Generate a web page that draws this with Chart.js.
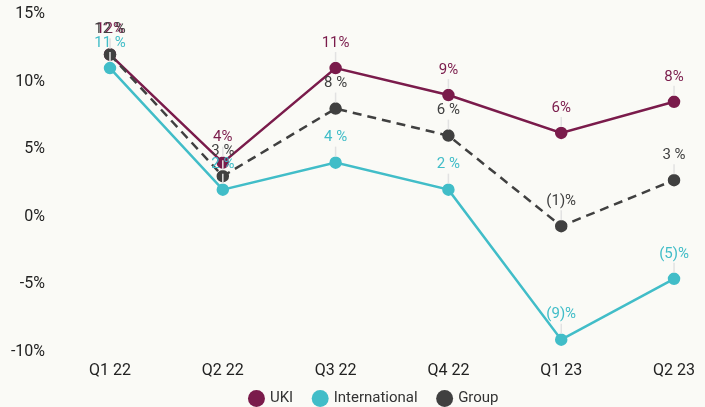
<!DOCTYPE html>
<html>
<head>
<meta charset="utf-8">
<script src="https://cdn.jsdelivr.net/npm/chart.js@4.4.0/dist/chart.umd.min.js"></script>
<style>
  html, body { margin: 0; padding: 0; background: #fafaf6; }
  #wrap { width: 705px; height: 407px; }
</style>
</head>
<body>
<div id="wrap"><canvas id="growthChart"></canvas></div>
<script>
let quarters = ["Q1 22", "Q2 22", "Q3 22", "Q4 22", "Q1 23", "Q2 23"];
let ukiData = [12, 4, 11, 9, 6.2, 8.5];
let intlData = [11, 2, 4, 2, -9.1, -4.6];
let groupData = [12, 3, 8, 6, -0.7, 2.7];
let ukiLabels = ["12%", "4%", "11%", "9%", "6%", "8%"];
let intlLabels = ["11 %", "2 %", "4 %", "2 %", "(9)%", "(5)%"];
let groupLabels = ["12 %", "3 %", "8 %", "6 %", "(1)%", "3 %"];

const FONT = "Roboto, 'Liberation Sans', sans-serif";

// draws the value text above each point with a thin leader line
const pointLabels = {
    id: "pointLabels",
    afterDatasetsDraw(chart) {
        const ctx = chart.ctx;
        chart.data.datasets.forEach((ds, i) => {
            const meta = chart.getDatasetMeta(i);
            if (meta.hidden) return;
            meta.data.forEach((pt, j) => {
                ctx.save();
                ctx.strokeStyle = "#e2e2e2";
                ctx.lineWidth = 1.5;
                ctx.beginPath();
                ctx.moveTo(pt.x, pt.y - 16);
                ctx.lineTo(pt.x, pt.y - 6);
                ctx.stroke();
                ctx.fillStyle = ds.borderColor;
                ctx.font = "15px " + FONT;
                ctx.textAlign = "center";
                ctx.textBaseline = "middle";
                ctx.fillText(ds.valueLabels[j], pt.x, pt.y - 25);
                ctx.restore();
            });
        });
    }
};

// keep the legend thin but with wide gaps between items
const legendFit = {
    id: "legendFit",
    afterInit(chart) {
        const lg = chart.legend;
        const fit = lg.fit;
        lg.fit = function () {
            fit.call(this);
            this.height = 16;
        };
    },
    afterLayout(chart) {
        chart.legend.top -= 21;
        chart.legend.left += 33;
        chart.legend.right += 33;
    }
};

let ctx = document.getElementById("growthChart").getContext("2d");
new Chart(ctx, {
    type: "line",
    data: {
        labels: quarters,
        datasets: [
            {
                label: "UKI",
                data: ukiData,
                valueLabels: ukiLabels,
                borderColor: "#7a1b4b",
                backgroundColor: "#7a1b4b",
                borderWidth: 2.5,
                pointRadius: 5,
                order: 2
            },
            {
                label: "International",
                data: intlData,
                valueLabels: intlLabels,
                borderColor: "#41bdc8",
                backgroundColor: "#41bdc8",
                borderWidth: 2.5,
                pointRadius: 5,
                order: 3
            },
            {
                label: "Group",
                data: groupData,
                valueLabels: groupLabels,
                borderColor: "#404040",
                backgroundColor: "#404040",
                borderWidth: 2.5,
                borderDash: [9, 6],
                pointRadius: 5,
                order: 1
            }
        ]
    },
    options: {
        responsive: true,
        maintainAspectRatio: false,
        animation: false,
        layout: { padding: { left: 0, right: 22, top: 14, bottom: 0 } },
        scales: {
            x: {
                offset: false,
                grid: { display: false, drawTicks: false },
                border: { display: false },
                ticks: { color: "#222", font: { size: 16, family: FONT }, padding: 10, maxRotation: 0 }
            },
            y: {
                min: -10,
                max: 15,
                grid: { display: false, drawTicks: false },
                border: { display: false },
                afterFit(scale) {
                    scale.width = 110;
                    scale.paddingTop = 0;
                    scale.paddingBottom = 0;
                },
                ticks: {
                    stepSize: 5,
                    padding: 65,
                    color: "#222",
                    font: { size: 16, family: FONT },
                    callback: v => v + "%"
                }
            }
        },
        plugins: {
            tooltip: { enabled: false },
            legend: {
                position: "bottom",
                labels: {
                    usePointStyle: true,
                    pointStyle: "circle",
                    boxWidth: 12,
                    boxHeight: 12,
                    padding: 21,
                    color: "#333",
                    font: { size: 15, family: FONT },
                    sort: (a, b) => a.datasetIndex - b.datasetIndex,
                    generateLabels(chart) {
                        const items = Chart.defaults.plugins.legend.labels.generateLabels(chart);
                        items.forEach(it => { it.lineDash = []; it.lineWidth = 0; });
                        return items;
                    }
                }
            }
        }
    },
    plugins: [pointLabels, legendFit]
});
</script>
</body>
</html>
